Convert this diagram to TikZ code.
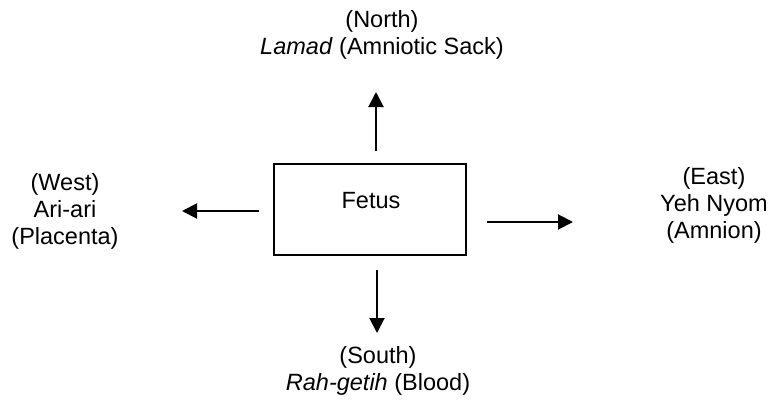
\documentclass[tikz,border=0pt]{standalone}
\usepackage{fontspec}
\setmainfont{Liberation Sans}
\usetikzlibrary{arrows.meta}
\begin{document}
\begin{tikzpicture}[x=1pt,y=-1pt,
  every node/.style={font=\fontsize{23.5}{27}\selectfont},
  place/.style={align=center,inner sep=0pt},
  fetusbox/.style={draw,line width=2pt,minimum width=192pt,minimum height=91pt,inner sep=0pt},
  pointer/.style={line width=2pt,-{Triangle[length=15pt,width=15pt]}}]
  \useasboundingbox (0,0) rectangle (773,399);

  % central box
  \node[fetusbox] (fetus) at (370,209.5) {};
  \node[place] (fetuslabel) at (371,201) {Fetus};

  % four directions
  \node[place] (north) at (382,35) {(North)\\\textit{Lamad} (Amniotic Sack)};
  \node[place] (south) at (378,371) {(South)\\\textit{Rah-getih} (Blood)};
  \node[place] (west) at (65,211) {(West)\\Ari-ari\\(Placenta)};
  \node[place] (east) at (714,205) {(East)\\Yeh Nyom\\(Amnion)};

  % arrow ends
  \coordinate (ntail) at (376,151);
  \coordinate (nhead) at (376,92);
  \coordinate (stail) at (377,270);
  \coordinate (shead) at (377,333);
  \coordinate (wtail) at (259,211);
  \coordinate (whead) at (182,211);
  \coordinate (etail) at (487,222);
  \coordinate (ehead) at (573,222);

  \draw[pointer] (ntail) -- (nhead);
  \draw[pointer] (stail) -- (shead);
  \draw[pointer] (wtail) -- (whead);
  \draw[pointer] (etail) -- (ehead);
\end{tikzpicture}
\end{document}
